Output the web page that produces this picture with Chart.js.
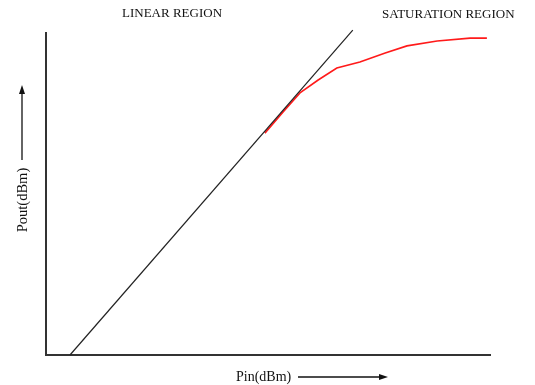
<!DOCTYPE html>
<html>
<head>
<meta charset="utf-8">
<script src="https://cdn.jsdelivr.net/npm/chart.js@4/dist/chart.umd.min.js"></script>
<style>
  html, body { margin: 0; padding: 0; background: #fff; }
  #wrap { position: relative; width: 535px; height: 385px; }
</style>
</head>
<body>
<div id="wrap"><canvas id="amp-chart" width="535" height="385"></canvas></div>
<script>
// ideal linear gain line (Pin vs Pout, arbitrary units)
const linearPin = [5.4, 69.1];
const linearPout = [0, 100.9];
// actual amplifier response bending into saturation
const satPin = [49.3, 53.4, 57.2, 61.3, 65.5, 70.7, 76.4, 81.3, 88.1, 95.5, 99.3];
const satPout = [68.9, 75.5, 81.4, 85.4, 89.1, 91.0, 93.8, 96.0, 97.5, 98.4, 98.4];
const regionLabels = ["LINEAR REGION", "SATURATION REGION"];
const xTitle = "Pin(dBm)";
const yTitle = "Pout(dBm)";

const toPoints = (xs, ys) => xs.map((x, i) => ({ x: x, y: ys[i] }));

const labelsPlugin = {
  id: "labels",
  afterDraw(chart) {
    const ctx = chart.ctx;
    ctx.save();
    ctx.fillStyle = "#111";
    ctx.strokeStyle = "#111";
    ctx.font = "13px 'Liberation Serif', serif";
    ctx.textBaseline = "middle";
    ctx.textAlign = "left";
    ctx.fillText(regionLabels[0], 122, 14);
    ctx.fillText(regionLabels[1], 382, 15);

    // x axis title + arrow
    ctx.font = "14px 'Liberation Serif', serif";
    ctx.fillText(xTitle, 236, 377);
    ctx.lineWidth = 1.3;
    ctx.beginPath();
    ctx.moveTo(298, 377);
    ctx.lineTo(381, 377);
    ctx.stroke();
    ctx.beginPath();
    ctx.moveTo(388, 377);
    ctx.lineTo(379, 374);
    ctx.lineTo(379, 380);
    ctx.closePath();
    ctx.fill();

    // y axis title + arrow
    ctx.save();
    ctx.translate(23, 200);
    ctx.rotate(-Math.PI / 2);
    ctx.textAlign = "center";
    ctx.font = "14.5px 'Liberation Serif', serif";
    ctx.fillText(yTitle, 0, 0);
    ctx.restore();
    ctx.beginPath();
    ctx.moveTo(22, 160);
    ctx.lineTo(22, 92);
    ctx.stroke();
    ctx.beginPath();
    ctx.moveTo(22, 85);
    ctx.lineTo(19, 94);
    ctx.lineTo(25, 94);
    ctx.closePath();
    ctx.fill();
    ctx.restore();
  }
};

const ctx = document.getElementById("amp-chart").getContext("2d");
new Chart(ctx, {
  type: "scatter",
  data: {
    datasets: [
      {
        label: "Linear",
        data: toPoints(linearPin, linearPout),
        showLine: true,
        borderColor: "#222",
        borderWidth: 1.2,
        pointRadius: 0,
        clip: false
      },
      {
        label: "Saturation",
        data: toPoints(satPin, satPout),
        showLine: true,
        borderColor: "#ff1a1a",
        borderWidth: 1.6,
        pointRadius: 0,
        clip: false
      }
    ]
  },
  options: {
    responsive: false,
    animation: false,
    layout: { padding: { left: 38, top: 33, right: 45, bottom: 22 } },
    plugins: { legend: { display: false }, tooltip: { enabled: false } },
    scales: {
      x: {
        type: "linear", min: 0, max: 100,
        grid: { display: false },
        ticks: { display: false },
        border: { display: true, color: "#333", width: 2 }
      },
      y: {
        type: "linear", min: 0, max: 100,
        grid: { display: false },
        ticks: { display: false },
        border: { display: true, color: "#333", width: 2 }
      }
    }
  },
  plugins: [labelsPlugin]
});
</script>
</body>
</html>
